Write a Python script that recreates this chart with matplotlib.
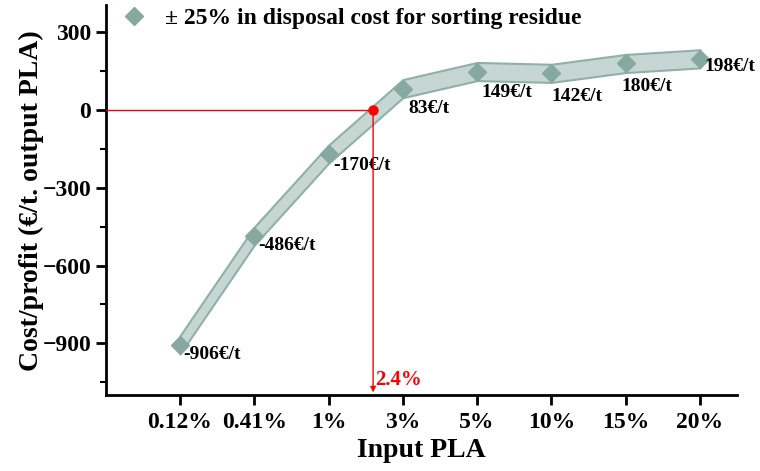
import numpy as np
import matplotlib
matplotlib.use('Agg')
import matplotlib.pyplot as plt
from matplotlib.ticker import MultipleLocator

plt.rcParams['font.family'] = ['Liberation Serif', 'DejaVu Serif']
plt.rcParams['font.weight'] = 'bold'

# data
categories = ['0.12%', '0.41%', '1%', '3%', '5%', '10%', '15%', '20%']
values = [-906, -486, -170, 83, 149, 142, 180, 198]
upper = [-871, -451, -135, 118, 184, 177, 215, 233]
lower = [-941, -521, -205, 48, 114, 107, 145, 163]
labels = ['-906€/t', '-486€/t', '-170€/t', '83€/t', '149€/t', '142€/t', '180€/t', '198€/t']
breakeven_pos = 3.6
breakeven_label = '2.4%'

x = np.arange(1, len(categories) + 1)

fig = plt.figure(figsize=(7.6, 4.71), dpi=100)
ax = fig.add_axes([0.139, 0.161, 0.831, 0.828])

band_face = '#c6d7d3'
band_edge = '#8fb0a8'
marker_col = '#86a89f'

ax.fill_between(x, lower, upper, facecolor=band_face, edgecolor=band_edge, linewidth=1.5, zorder=2)
ax.plot(x, values, linestyle='none', marker='D', markersize=9, color=marker_col, zorder=3,
        label='± 25% in disposal cost for sorting residue')

# label offsets (pixels, left edge / vertical centre)
offsets = [(3, -10), (4, -9), (5, -11), (6, -20), (4, -21), (0, -23), (-4, -23), (4, -8)]
for xi, v, lab, (dx, dy) in zip(x, values, labels, offsets):
    ax.annotate(lab, (xi, v), xytext=(dx, dy), textcoords='offset pixels',
                fontsize=14, fontweight='bold', ha='left', va='center')

# break-even marker
ymin, ymax = -1100, 405
ax.plot([0, breakeven_pos], [0, 0], color='red', linewidth=1, zorder=4)
ax.annotate('', xy=(breakeven_pos, ymin), xytext=(breakeven_pos, 0),
            arrowprops=dict(arrowstyle='-|>', color='red', lw=1, mutation_scale=8), zorder=4)
ax.plot(breakeven_pos, 0, 'o', color='red', markersize=6.5, zorder=5)
ax.text(breakeven_pos + 0.03, ymin + 60, breakeven_label, color='red', fontsize=15,
        fontweight='bold', ha='left', va='center')

ax.set_xlim(0, 8.5)
ax.set_ylim(ymin, ymax)
ax.set_xticks(x)
ax.set_xticklabels(categories)
ax.yaxis.set_major_locator(MultipleLocator(300))
ax.yaxis.set_minor_locator(MultipleLocator(150))
ax.tick_params(axis='both', which='major', labelsize=17, width=2, length=7, direction='out')
ax.tick_params(axis='y', which='minor', width=1.5, length=4)
ax.tick_params(axis='x', pad=5)
for lab in ax.get_xticklabels() + ax.get_yticklabels():
    lab.set_fontweight('bold')

for s in ['top', 'right']:
    ax.spines[s].set_visible(False)
for s in ['left', 'bottom']:
    ax.spines[s].set_linewidth(2)

ax.set_xlabel('Input PLA', fontsize=20, fontweight='bold', labelpad=4)
ax.set_ylabel('Cost/profit (€/t. output PLA)', fontsize=20, fontweight='bold', labelpad=-1)

ax.legend(loc='upper left', frameon=False, fontsize=17, handletextpad=0.6,
          handlelength=1.4, borderaxespad=0.1, bbox_to_anchor=(0.0, 1.025))

fig.savefig('out.png', dpi=100)
